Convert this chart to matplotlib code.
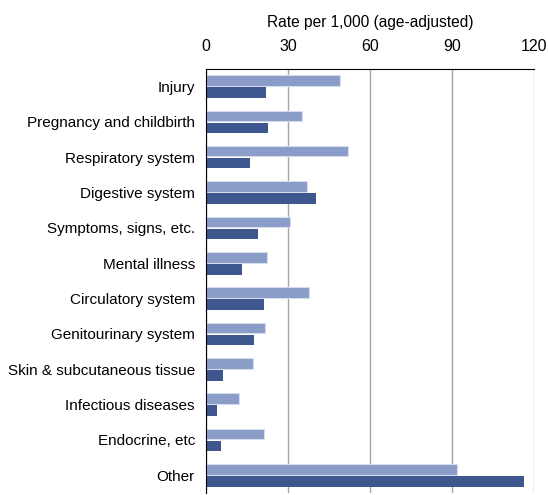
import matplotlib.pyplot as plt
import numpy as np

plt.rcParams['font.family'] = ['Liberation Sans', 'DejaVu Sans']

# categories, top to bottom
categories = ["Injury", "Pregnancy and childbirth", "Respiratory system",
              "Digestive system", "Symptoms, signs, etc.", "Mental illness",
              "Circulatory system", "Genitourinary system",
              "Skin & subcutaneous tissue", "Infectious diseases",
              "Endocrine, etc", "Other"]
# two series
light_vals = [49.2, 35.0, 52.1, 37.1, 30.7, 22.2, 37.8, 21.5, 17.1, 12.2, 21.3, 91.9]
dark_vals = [22.1, 22.8, 16.2, 40.4, 19.2, 13.3, 21.3, 17.7, 6.3, 4.1, 5.6, 116.6]
xticks = [0, 30, 60, 90, 120]

fig = plt.figure(figsize=(5.48, 4.95), dpi=100)
ax = fig.add_axes([0.376, 0.004, 0.598, 0.857])

y = np.arange(len(categories))
h = 0.3
ax.barh(y - h / 2 - 0.02, light_vals, height=h, color='#8A9CC8',
        edgecolor='#D6DCEE', linewidth=0.8, zorder=3)
ax.barh(y + h / 2 + 0.02, dark_vals, height=h, color='#3F578F', zorder=3)

ax.set_ylim(len(categories) - 0.5, -0.5)
ax.set_xlim(0, 120)
ax.set_yticks(y)
ax.set_yticklabels(categories, fontsize=11)
ax.set_xticks(xticks)
ax.xaxis.tick_top()
ax.xaxis.set_label_position('top')
ax.tick_params(axis='x', length=0, labelsize=11.5, pad=11)
ax.tick_params(axis='y', length=0, pad=8)
ax.set_xlabel("Rate per 1,000 (age-adjusted)", fontsize=11.2, labelpad=8)

ax.grid(axis='x', color='#A6A6A6', linewidth=1, zorder=0)
for s in ['right', 'bottom']:
    ax.spines[s].set_visible(False)
ax.spines['left'].set_color('black')
ax.spines['top'].set_color('black')
ax.spines['left'].set_zorder(4)

fig.savefig('out.png', dpi=100)
